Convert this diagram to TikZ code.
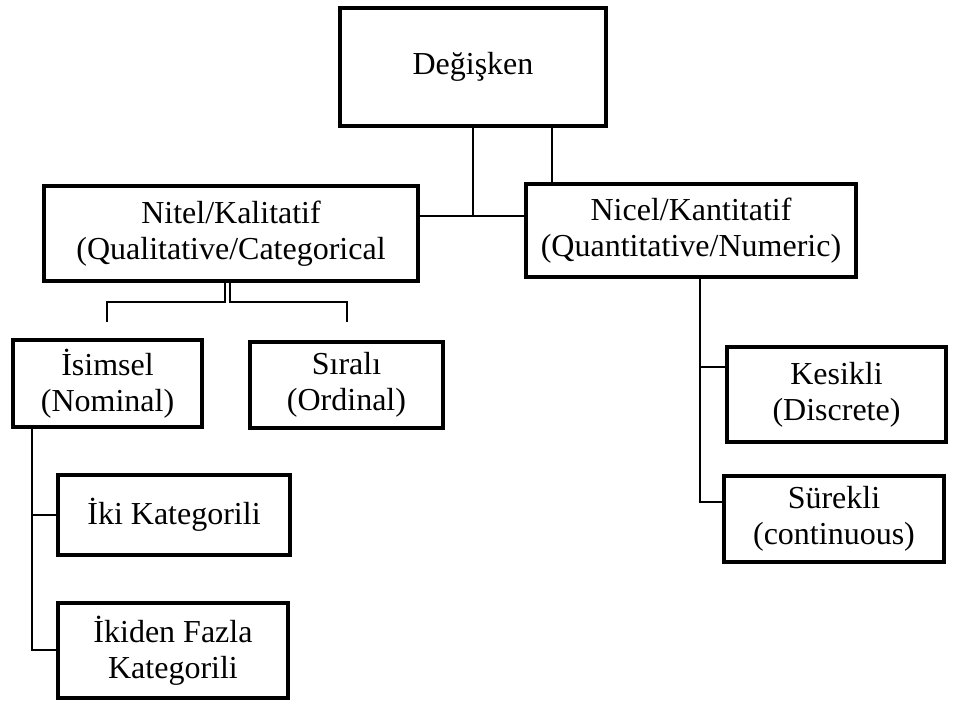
\documentclass[tikz,border=0pt]{standalone}
\usepackage{fontspec}
\setmainfont{Liberation Serif}
\begin{document}
\begin{tikzpicture}[x=1pt,y=-1pt,
  box/.style={draw, line width=3.5pt, inner sep=0pt, align=center, font=\fontsize{32}{36}\selectfont},
  conn/.style={line width=2.2pt}]
\useasboundingbox[fill=white] (0,0) rectangle (956,709);
\node[box, minimum width=266pt, minimum height=118pt] (deg) at (473,67) {Değişken};
\node[box, minimum width=374pt, minimum height=95pt] (nitel) at (231,233.5) {Nitel/Kalitatif\\(Qualitative/Categorical};
\node[box, minimum width=330pt, minimum height=93pt] (nicel) at (691,230.5) {Nicel/Kantitatif\\(Quantitative/Numeric)};
\node[box, minimum width=189pt, minimum height=87pt] (isim) at (107.5,383.5) {İsimsel\\(Nominal)};
\node[box, minimum width=193pt, minimum height=86pt] (sira) at (346.5,385) {Sıralı\\(Ordinal)};
\node[box, minimum width=232pt, minimum height=80pt] (iki) at (174,515) {İki Kategorili};
\node[box, minimum width=230pt, minimum height=95pt] (ikiden) at (173,650.5) {İkiden Fazla\\Kategorili};
\node[box, minimum width=219pt, minimum height=95pt] (kesik) at (836.5,394.5) {Kesikli\\(Discrete)};
\node[box, minimum width=220pt, minimum height=86pt] (surek) at (834,519) {Sürekli\\(continuous)};
% Degisken connectors
\coordinate (j1) at (473,216);
\coordinate (j2) at (552,184);
\draw[conn] (j1 |- deg.south) -- (j1);
\draw[conn] (nitel.east |- j1) -- (nicel.west |- j1);
\draw[conn] (j2 |- deg.south) -- (j2 |- nicel.north);
% Nitel connectors
\coordinate (a1) at (225,302);
\coordinate (a2) at (230,302);
\coordinate (l1) at (107,322);
\coordinate (r1) at (347,322);
\draw[conn] (a1 |- nitel.south) -- (a1) -- (l1 |- a1) -- (l1);
\draw[conn] (a2 |- nitel.south) -- (a2) -- (r1 |- a2) -- (r1);
% Isimsel connectors
\coordinate (b) at (32,650);
\draw[conn] (b |- isim.south) -- (b) -- (ikiden.west |- b);
\draw[conn] (b |- iki.west) -- (iki.west);
% Nicel connectors
\coordinate (c) at (700,502);
\coordinate (c2) at (700,367);
\draw[conn] (c |- nicel.south) -- (c) -- (surek.west |- c);
\draw[conn] (c2) -- (kesik.west |- c2);
\end{tikzpicture}
\end{document}
